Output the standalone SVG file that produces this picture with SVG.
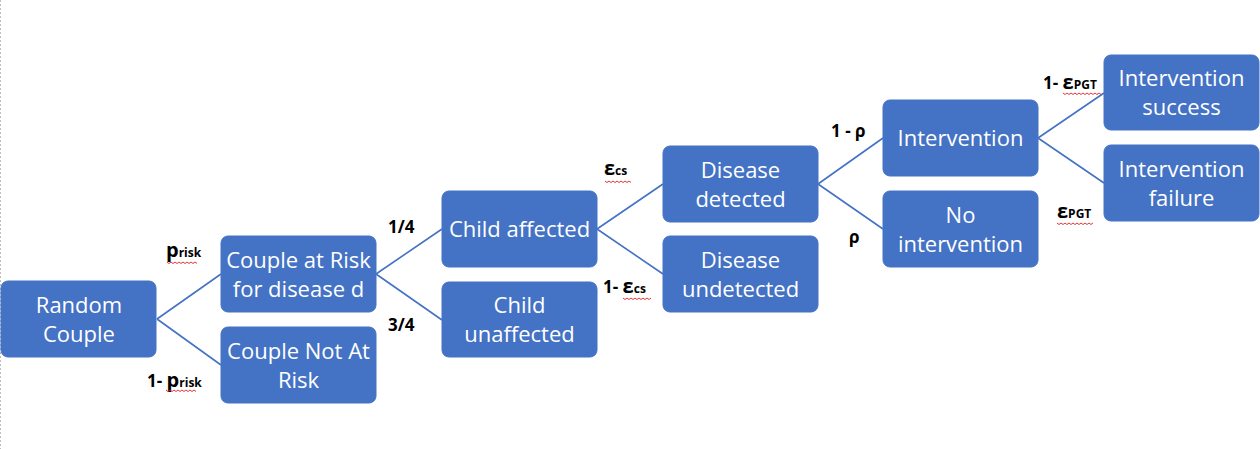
<svg xmlns="http://www.w3.org/2000/svg" width="1260" height="449" viewBox="0 0 1260 449">
<style>
.box{fill:#4472C4;stroke:#4472C4;stroke-width:1}
.t{font-family:"Open Sans","Liberation Sans",sans-serif;font-size:22px;fill:#fff;text-anchor:middle}
.c{stroke:#4472C4;stroke-width:1.6;fill:none}
.l{font-family:"Open Sans","Liberation Sans",sans-serif;font-weight:700;font-size:17px;fill:#000}
.big{font-size:20px}
.sub{font-size:12px}
.sq{stroke:#e02020;stroke-width:0.9;fill:none}
</style>
<rect width="1260" height="449" fill="#fff"/>
<line x1="0.5" y1="0" x2="0.5" y2="449" stroke="#bdbdbd" stroke-width="1" stroke-dasharray="2 2"/>
<g id="connectors">
<path class="c" d="M157 319 L221 274 M157 319 L221 365"/>
<path class="c" d="M376 274 L442 229 M376 274 L442 320"/>
<path class="c" d="M597 229 L663 184 M597 229 L663 274"/>
<path class="c" d="M818 184 L883 138 M818 184 L883 229"/>
<path class="c" d="M1038 138 L1104 93 M1038 138 L1104 183"/>
</g>
<g id="n-random"><rect class="box" x="1" y="281" width="155" height="76" rx="7"/><text class="t" x="79" y="313">Random</text><text class="t" x="79" y="342">Couple</text></g>
<g id="n-risk"><rect class="box" x="221" y="236" width="155" height="76" rx="7"/><text class="t" x="298.5" y="267.5">Couple at Risk</text><text class="t" x="298.5" y="296.5">for disease d</text></g>
<g id="n-norisk"><rect class="box" x="221" y="327" width="155" height="76" rx="7"/><text class="t" x="298.5" y="358.5">Couple Not At</text><text class="t" x="298.5" y="387.5">Risk</text></g>
<g id="n-affected"><rect class="box" x="442" y="191" width="155" height="76" rx="7"/><text class="t" x="519.5" y="237">Child affected</text></g>
<g id="n-unaffected"><rect class="box" x="442" y="282" width="155" height="75" rx="7"/><text class="t" x="519.5" y="313">Child</text><text class="t" x="519.5" y="342">unaffected</text></g>
<g id="n-detected"><rect class="box" x="663" y="146" width="155" height="76" rx="7"/><text class="t" x="740.5" y="177.5">Disease</text><text class="t" x="740.5" y="206.5">detected</text></g>
<g id="n-undetected"><rect class="box" x="663" y="236" width="155" height="76" rx="7"/><text class="t" x="740.5" y="267.5">Disease</text><text class="t" x="740.5" y="296.5">undetected</text></g>
<g id="n-intervention"><rect class="box" x="883" y="100" width="155" height="76" rx="7"/><text class="t" x="960.5" y="146">Intervention</text></g>
<g id="n-nointervention"><rect class="box" x="883" y="191" width="155" height="76" rx="7"/><text class="t" x="960.5" y="222.5">No</text><text class="t" x="960.5" y="251.5">intervention</text></g>
<g id="n-success"><rect class="box" x="1104" y="55" width="155" height="75" rx="7"/><text class="t" x="1181.5" y="86">Intervention</text><text class="t" x="1181.5" y="115">success</text></g>
<g id="n-failure"><rect class="box" x="1104" y="145" width="155" height="76" rx="7"/><text class="t" x="1181.5" y="176.5">Intervention</text><text class="t" x="1181.5" y="205.5">failure</text></g>
<g id="labels">
<text class="l" x="166" y="257"><tspan class="big">p</tspan><tspan class="sub">risk</tspan></text>
<text class="l" x="147" y="387">1- <tspan class="big">p</tspan><tspan class="sub">risk</tspan></text>
<text class="l" x="388" y="233">1/4</text>
<text class="l" x="388" y="331">3/4</text>
<text class="l" x="604" y="175"><tspan class="big">ε</tspan><tspan class="sub">cs</tspan></text>
<text class="l" x="603" y="293">1- <tspan class="big">ε</tspan><tspan class="sub">cs</tspan></text>
<text class="l" x="831" y="137">1 - ρ</text>
<text class="l" x="849" y="243">ρ</text>
<text class="l" x="1043" y="89">1- <tspan class="big">ε</tspan><tspan class="sub">PGT</tspan></text>
<text class="l" x="1057" y="218"><tspan class="big">ε</tspan><tspan class="sub">PGT</tspan></text>
</g>
<g id="spellcheck">
<path class="sq" d="M167 262 l2 1.5 l2 -1.5 l2 1.5 l2 -1.5 l2 1.5 l2 -1.5 l2 1.5 l2 -1.5 l2 1.5 l2 -1.5 l2 1.5 l2 -1.5 l2 1.5 l2 -1.5 l2 1.5"/>
<path class="sq" d="M166 390 l2 1.5 l2 -1.5 l2 1.5 l2 -1.5 l2 1.5 l2 -1.5 l2 1.5 l2 -1.5 l2 1.5 l2 -1.5 l2 1.5 l2 -1.5 l2 1.5 l2 -1.5 l2 1.5"/>
<path class="sq" d="M605 181 l2 1.5 l2 -1.5 l2 1.5 l2 -1.5 l2 1.5 l2 -1.5 l2 1.5 l2 -1.5 l2 1.5 l2 -1.5 l2 1.5 l2 -1.5 l2 1.5"/>
<path class="sq" d="M623 298 l2 1.5 l2 -1.5 l2 1.5 l2 -1.5 l2 1.5 l2 -1.5 l2 1.5 l2 -1.5 l2 1.5 l2 -1.5 l2 1.5 l2 -1.5 l2 1.5 l2 -1.5"/>
<path class="sq" d="M1063 93 l2 1.5 l2 -1.5 l2 1.5 l2 -1.5 l2 1.5 l2 -1.5 l2 1.5 l2 -1.5 l2 1.5 l2 -1.5 l2 1.5 l2 -1.5 l2 1.5 l2 -1.5 l2 1.5 l2 -1.5 l2 1.5 l2 -1.5 l2 1.5"/>
<path class="sq" d="M1057 223 l2 1.5 l2 -1.5 l2 1.5 l2 -1.5 l2 1.5 l2 -1.5 l2 1.5 l2 -1.5 l2 1.5 l2 -1.5 l2 1.5 l2 -1.5 l2 1.5 l2 -1.5 l2 1.5 l2 -1.5 l2 1.5 l2 -1.5"/>
</g>
</svg>
